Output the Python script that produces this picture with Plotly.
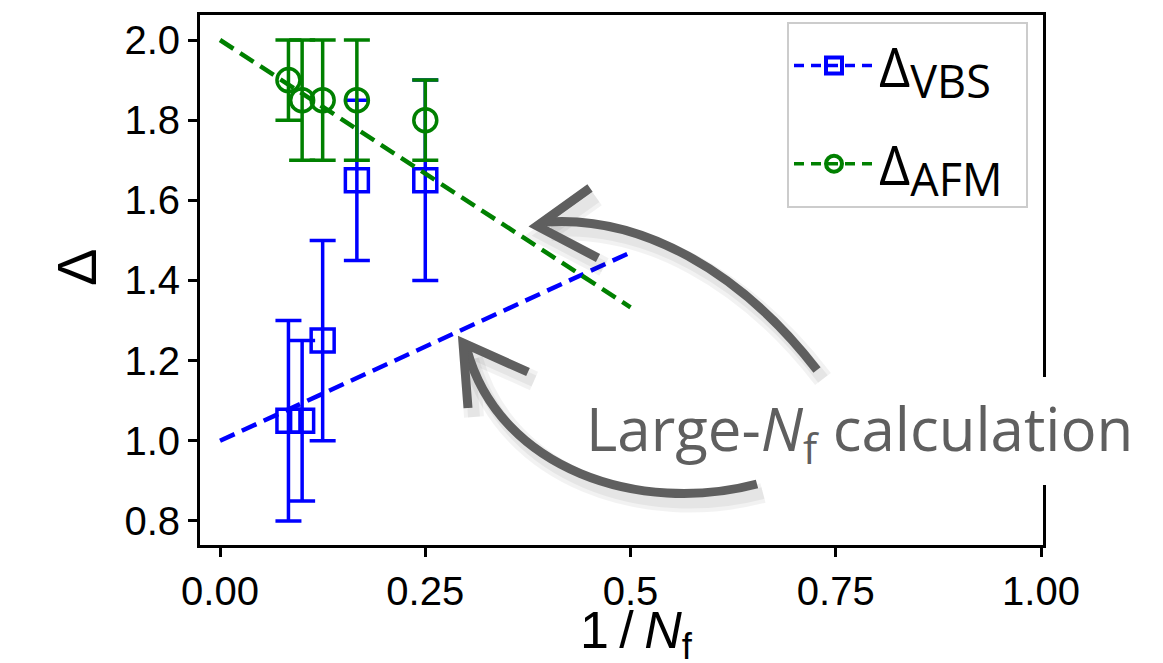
import plotly.graph_objects as go

# ---- data ----
inv_nf = [1/12, 1/10, 1/8, 1/6, 1/4]
vbs = [1.05, 1.05, 1.25, 1.65, 1.65]
vbs_err = [0.25, 0.20, 0.25, 0.20, 0.25]
afm = [1.90, 1.85, 1.85, 1.85, 1.80]
afm_err = [0.10, 0.15, 0.15, 0.15, 0.10]
fit_x = [0.0, 0.5]
vbs_fit = [1.0, 1.47]
afm_fit = [2.0, 1.333]

x_ticks = [0.0, 0.25, 0.5, 0.75, 1.0]
x_ticklabels = ["0.00", "0.25", "0.5", "0.75", "1.00"]
y_ticks = [0.8, 1.0, 1.2, 1.4, 1.6, 1.8, 2.0]
y_ticklabels = ["0.8", "1.0", "1.2", "1.4", "1.6", "1.8", "2.0"]

BLUE = "#0000ff"
GREEN = "#008000"
GRAY = "#5f5f5f"

# plot-area pixel geometry (page pixels); the page body adds an 8px offset
W, H = 1163, 663
OFF = 8
L, R, T, B = 200, 1043, 15, 545


def px(x, y):
    return (x - L) / (R - L), (B - y) / (B - T)


def path(cmds):
    out = []
    for c in cmds:
        if isinstance(c, str):
            out.append(c)
        else:
            xx, yy = px(*c)
            out.append(f"{xx:.5f},{yy:.5f}")
    return " ".join(out)


fig = go.Figure()

fig.add_trace(go.Scatter(
    x=inv_nf, y=vbs, mode="markers", showlegend=False,
    marker=dict(symbol="square-open", size=23, color=BLUE, line=dict(width=3.5, color=BLUE)),
    error_y=dict(type="data", array=vbs_err, color=BLUE, thickness=3.5, width=13),
))
fig.add_trace(go.Scatter(
    x=inv_nf, y=afm, mode="markers", showlegend=False,
    marker=dict(symbol="circle-open", size=23, color=GREEN, line=dict(width=3.5, color=GREEN)),
    error_y=dict(type="data", array=afm_err, color=GREEN, thickness=3.5, width=13),
))
fig.add_trace(go.Scatter(
    x=fit_x, y=vbs_fit, mode="lines", showlegend=False,
    line=dict(color=BLUE, width=4.5, dash="16px,8px"),
))
fig.add_trace(go.Scatter(
    x=fit_x, y=afm_fit, mode="lines", showlegend=False,
    line=dict(color=GREEN, width=4.5, dash="16px,8px"),
))
# legend entries
SUB = "<span style='font-size:45px'>{}</span>"
PAD = "\u2009\u2009"
fig.add_trace(go.Scatter(
    x=[None], y=[None], mode="lines+markers",
    name="Δ<sub>" + SUB.format("VBS") + "</sub>" + PAD, legendgroup="a",
    line=dict(color=BLUE, width=3.5, dash="10px,7px"),
    marker=dict(symbol="square-open", size=18, color=BLUE, line=dict(width=4, color=BLUE)),
))
fig.add_trace(go.Scatter(
    x=[None], y=[None], mode="lines+markers",
    name="Δ<sub>" + SUB.format("AFM") + "</sub>" + PAD, legendgroup="b",
    line=dict(color=GREEN, width=3.5, dash="10px,7px"),
    marker=dict(symbol="circle-open", size=18, color=GREEN, line=dict(width=4, color=GREEN)),
))

# ---- hand-drawn style arrows ----
arrow_paths = [
    ["M", (817, 370), "C", (740, 270), (640, 215), (545, 222)],
    ["M", (590, 188), "L", (537, 226), "L", (598, 258)],
    ["M", (757, 484), "C", (640, 515), (500, 470), (467, 350)],
    ["M", (528, 372), "L", (463, 343), "L", (468, 408)],
]

shapes = [
    # white patch behind the annotation text that interrupts the right spine
    dict(type="rect", xref="paper", yref="paper",
         x0=px(1020, 0)[0], x1=px(1070, 0)[0], y0=px(0, 485)[1], y1=px(0, 377)[1],
         fillcolor="white", line=dict(width=0), layer="above"),
]
for p_pts in arrow_paths:
    sh = [c if isinstance(c, str) else (c[0] + 6, c[1] + 9) for c in p_pts]
    shapes.append(dict(type="path", xref="paper", yref="paper", path=path(sh),
                       line=dict(color="rgba(0,0,0,0.05)", width=20)))
    shapes.append(dict(type="path", xref="paper", yref="paper", path=path(sh),
                       line=dict(color="rgba(0,0,0,0.05)", width=12)))
for p_pts in arrow_paths:
    shapes.append(dict(type="path", xref="paper", yref="paper", path=path(p_pts),
                       line=dict(color=GRAY, width=9)))

ax_common = dict(
    showline=True, linecolor="black", linewidth=3, mirror=True,
    ticks="outside", ticklen=9, tickwidth=2.5, tickcolor="black",
    showgrid=False, zeroline=False, automargin=False,
    tickfont=dict(family="Liberation Sans, Arial, sans-serif", size=40, color="black"),
)

fig.update_layout(
    width=W, height=H,
    margin=dict(l=L - OFF, r=W - (R - OFF), t=T - OFF, b=H - (B - OFF)),
    paper_bgcolor="white", plot_bgcolor="white",
    xaxis=dict(range=[-0.0244, 1.0024], tickvals=x_ticks, ticktext=x_ticklabels, **ax_common),
    yaxis=dict(range=[0.740, 2.0624], tickvals=y_ticks, ticktext=y_ticklabels, **ax_common),
    legend=dict(x=(1028 - L) / (R - L), xanchor="right", y=(B - 22) / (B - T), yanchor="top",
                bgcolor="white", bordercolor="#cccccc", borderwidth=2,
                font=dict(family="Open Sans, sans-serif", size=54, color="black"),
                tracegroupgap=25, itemwidth=80),
    shapes=shapes,
    annotations=[
        dict(text="Large-<i>N</i><sub>f</sub> calculation", xref="paper", yref="paper",
             x=px(584, 431)[0], y=px(584, 431)[1], xanchor="left", yanchor="middle",
             showarrow=False,
             font=dict(family="Open Sans, sans-serif", size=60, color=GRAY)),
        dict(text="1\u2009/\u2009<i>N</i><sub>f</sub>", xref="paper", yref="paper",
             x=px(636, 0)[0], y=px(0, 634)[1], xanchor="center", yanchor="middle",
             showarrow=False,
             font=dict(family="Liberation Sans, Arial, sans-serif", size=52, color="black")),
        dict(text="Δ", xref="paper", yref="paper", textangle=-90,
             x=px(76, 0)[0], y=px(0, 268)[1], xanchor="center", yanchor="middle",
             showarrow=False,
             font=dict(family="Liberation Sans, Arial, sans-serif", size=56, color="black")),
    ],
)

fig.write_html("out.html")
